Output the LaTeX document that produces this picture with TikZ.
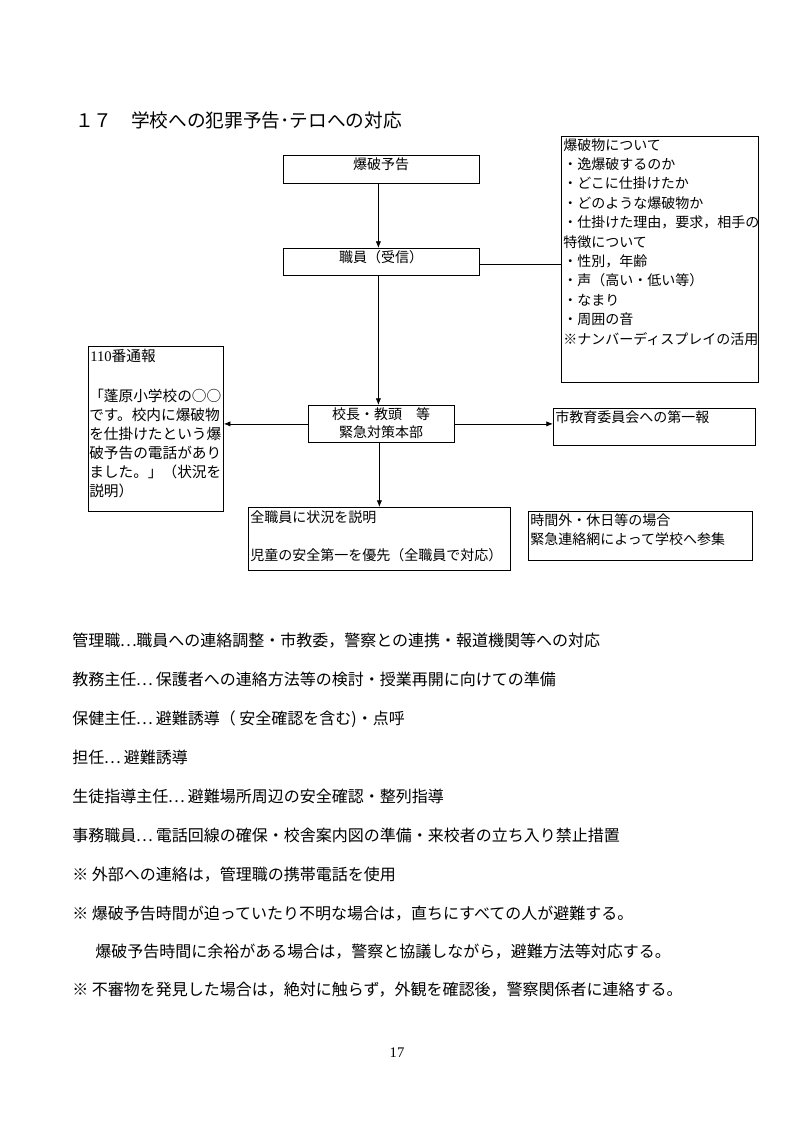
\documentclass[tikz,border=0pt]{standalone}
\usepackage{fontspec}
\setmainfont{Noto Sans CJK JP}
\newfontfamily\serifnum{Liberation Serif}
\newcommand\fwdots{\makebox[1em][c]{…}}
\usetikzlibrary{arrows.meta}
\begin{document}
\begin{tikzpicture}[x=0.75pt,y=-0.75pt,
  bx/.style n args={2}{draw, line width=0.6pt, inner sep=0pt, anchor=north west,
     minimum width={#1*0.75pt}, minimum height={#2*0.75pt}},
  arr/.style={line width=0.6pt, -{Latex[length=5pt,width=4pt]}},
  ln/.style={line width=0.6pt},
  bt/.style={inner sep=0pt, anchor=base west, font=\fontsize{10.5}{12}\selectfont},
  bc/.style={inner sep=0pt, anchor=base, font=\fontsize{10.5}{12}\selectfont},
  body/.style={inner sep=0pt, anchor=base west, font=\fontsize{12}{14}\selectfont}]
\useasboundingbox (0,0) rectangle (794,1122);

% title
\node[inner sep=0pt, anchor=base west, font=\fontsize{14}{16}\selectfont] (title) at (75,127) {１７　学校への犯罪予告･テロへの対応};

% boxes
\node[bx={196}{28}] (b1) at (283,155) {};
\node[bx={196}{27}] (b2) at (283,248) {};
\node[bx={197}{246}] (b3) at (561,136) {};
\node[bx={146}{37}] (b4) at (308,405) {};
\node[bx={135}{165}] (b5) at (88,346) {};
\node[bx={202}{37}] (b6) at (553,408) {};
\node[bx={262}{63}] (b7) at (248,507) {};
\node[bx={224}{49}] (b8) at (528,511) {};

% box texts
\node[bc] (t1) at (381,169) {爆破予告};
\node[bc] (t2) at (381,262) {職員（受信）};
\node[bc] (t4a) at (381,419) {校長・教頭　等};
\node[bc] (t4b) at (381,437) {緊急対策本部};

\foreach \s [count=\i from 0] in {爆破物について,・逸爆破するのか,・どこに仕掛けたか,・どのような爆破物か,{・仕掛けた理由，要求，相手の},特徴について,{・性別，年齢},・声（高い・低い等）,・なまり,・周囲の音,※ナンバーディスプレイの活用}
  \node[bt] (r\i) at (563,{150+19.4*\i}) {\s};

\node[bt, font=\fontsize{11}{12}\selectfont] (l0) at (90,361) {{\serifnum 110}番通報};
\foreach \s [count=\i from 0] in {「蓬原小学校の○○,です。校内に爆破物,を仕掛けたという爆,破予告の電話があり,ました。」（状況を,説明）}
  \node[bt, font=\fontsize{11}{12}\selectfont] (l\i x) at (89,{401+19*\i}) {\s};

\node[bt] (t6) at (555,422) {市教育委員会への第一報};
\node[bt] (t7a) at (250,522) {全職員に状況を説明};
\node[bt] (t7b) at (250,560) {児童の安全第一を優先（全職員で対応）};
\node[bt] (t8a) at (530,525) {時間外・休日等の場合};
\node[bt] (t8b) at (530,544) {緊急連絡網によって学校へ参集};

% connectors
\draw[arr] ([xshift=-2.25pt]b1.south) -- ([xshift=-2.25pt]b2.north);
\draw[ln] ([yshift=-2pt]b2.east) -- ([yshift=-2pt]b2.east -| b3.west);
\draw[arr] ([xshift=-2.25pt]b2.south) -- ([xshift=-2.25pt]b4.north);
\draw[arr] (b4.west) -- (b4.west -| b5.east);
\draw[arr] (b4.east) -- (b4.east -| b6.west);
\draw[arr] ([xshift=-1.5pt]b4.south) -- ([xshift=-1.5pt]b4.south |- b7.north);

% body text
\node[body] (p1) at (72,646) {管理職\fwdots 職員への連絡調整・市教委，警察との連携・報道機関等への対応};
\node[body] (p2) at (72,685) {教務主任\fwdots\ 保護者への連絡方法等の検討・授業再開に向けての準備};
\node[body] (p3) at (72,724) {保健主任\fwdots\ 避難誘導（ 安全確認を含む)・点呼};
\node[body] (p4) at (72,763) {担任\fwdots\ 避難誘導};
\node[body] (p5) at (72,802) {生徒指導主任\fwdots\ 避難場所周辺の安全確認・整列指導};
\node[body] (p6) at (72,841) {事務職員\fwdots\ 電話回線の確保・校舎案内図の準備・来校者の立ち入り禁止措置};
\node[body] (p7) at (72,880) {※ 外部への連絡は，管理職の携帯電話を使用};
\node[body] (p8) at (72,919) {※ 爆破予告時間が迫っていたり不明な場合は，直ちにすべての人が避難する。};
\node[body] (p9) at (95,957) {爆破予告時間に余裕がある場合は，警察と協議しながら，避難方法等対応する。};
\node[body] (p10) at (72,995) {※ 不審物を発見した場合は，絶対に触らず，外観を確認後，警察関係者に連絡する。};

\node[inner sep=0pt, anchor=base, font=\serifnum\fontsize{11}{12}\selectfont] (pg) at (397,1057) {17};
\end{tikzpicture}
\end{document}
